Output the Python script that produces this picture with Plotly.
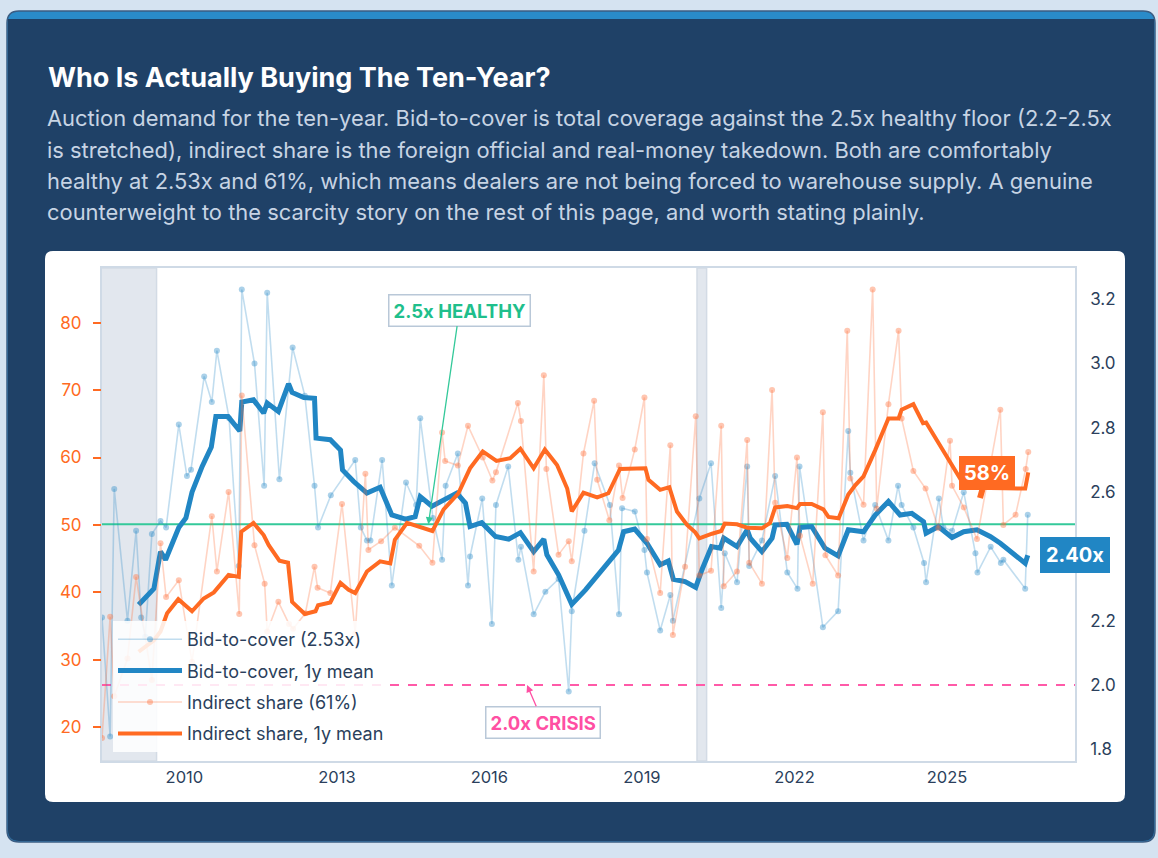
import plotly.graph_objects as go
import pandas as pd

# ---------------- data ----------------
btc_years = [2008.38, 2008.54, 2008.62, 2008.88, 2009.05, 2009.15, 2009.23, 2009.36, 2009.53, 2009.64,
             2009.89, 2010.05, 2010.13, 2010.39, 2010.54, 2010.64, 2010.88, 2011.07, 2011.13, 2011.38,
             2011.57, 2011.63, 2011.87, 2012.13, 2012.37, 2012.56, 2012.63, 2012.88, 2013.36, 2013.47,
             2013.59, 2013.66, 2013.89, 2014.08, 2014.36, 2014.56, 2014.64, 2014.89, 2015.07, 2015.14,
             2015.38, 2015.58, 2015.62, 2015.86, 2016.05, 2016.13, 2016.37, 2016.57, 2016.62, 2016.87,
             2017.10, 2017.36, 2017.56, 2017.62, 2017.87, 2018.07, 2018.37, 2018.55, 2018.61, 2018.86,
             2019.05, 2019.10, 2019.36, 2019.56, 2019.61, 2020.13, 2020.36, 2020.56, 2020.63, 2020.87,
             2021.07, 2021.11, 2021.36, 2021.62, 2021.86, 2022.06, 2022.10, 2022.56, 2022.86, 2023.06,
             2023.10, 2023.36, 2023.59, 2023.85, 2024.04, 2024.11, 2024.34, 2024.55, 2024.59, 2024.84,
             2024.93, 2025.10, 2025.33, 2025.56, 2025.60, 2025.86, 2026.06, 2026.11, 2026.54, 2026.59]
btc_vals = [2.21, 1.84, 2.61, 2.20, 2.48, 2.21, 2.15, 2.47, 2.51, 2.49,
            2.81, 2.65, 2.67, 2.96, 2.88, 3.04, 2.83, 2.37, 3.23, 3.00,
            2.62, 3.22, 2.64, 3.05, 2.90, 2.62, 2.49, 2.59, 2.70, 2.49,
            2.45, 2.45, 2.70, 2.31, 2.63, 2.56, 2.83, 2.52, 2.39, 2.62,
            2.72, 2.31, 2.40, 2.58, 2.19, 2.56, 2.68, 2.39, 2.43, 2.22,
            2.29, 2.33, 1.98, 2.23, 2.48, 2.69, 2.56, 2.22, 2.55, 2.54,
            2.42, 2.35, 2.17, 2.28, 2.20, 2.58, 2.69, 2.24, 2.41, 2.32,
            2.68, 2.37, 2.45, 2.65, 2.35, 2.30, 2.68, 2.18, 2.23, 2.79,
            2.66, 2.45, 2.56, 2.45, 2.62, 2.56, 2.49, 2.38, 2.32, 2.58,
            2.49, 2.48, 2.60, 2.41, 2.35, 2.43, 2.38, 2.39, 2.30, 2.53]

btc_mean_years = [2009.10, 2009.40, 2009.53, 2009.63, 2009.89, 2010.03, 2010.15, 2010.35, 2010.53, 2010.62,
                  2010.86, 2011.09, 2011.13, 2011.36, 2011.56, 2011.63, 2011.85, 2012.05, 2012.12, 2012.35,
                  2012.56, 2012.59, 2012.87, 2013.07, 2013.11, 2013.33, 2013.59, 2013.85, 2014.08, 2014.35,
                  2014.54, 2014.64, 2014.87, 2015.36, 2015.53, 2015.62, 2015.85, 2016.12, 2016.38, 2016.61,
                  2016.87, 2017.07, 2017.13, 2017.36, 2017.62, 2017.89, 2018.54, 2018.64, 2018.86, 2019.10,
                  2019.36, 2019.52, 2019.62, 2019.85, 2020.06, 2020.18, 2020.37, 2020.54, 2020.61, 2020.87,
                  2021.07, 2021.13, 2021.36, 2021.56, 2021.62, 2021.85, 2022.05, 2022.11, 2022.34, 2022.60,
                  2022.86, 2023.06, 2023.36, 2023.59, 2023.85, 2024.08, 2024.31, 2024.54, 2024.59, 2024.83,
                  2025.10, 2025.33, 2025.59, 2025.85, 2026.05, 2026.28, 2026.54, 2026.59]
btc_mean_vals = [2.25, 2.30, 2.415, 2.39, 2.49, 2.52, 2.60, 2.68, 2.74, 2.835,
                 2.835, 2.79, 2.88, 2.887, 2.846, 2.877, 2.851, 2.937, 2.91, 2.894,
                 2.892, 2.768, 2.763, 2.731, 2.669, 2.633, 2.597, 2.615, 2.529, 2.516,
                 2.524, 2.586, 2.556, 2.597, 2.566, 2.493, 2.505, 2.462, 2.454, 2.474,
                 2.415, 2.454, 2.405, 2.343, 2.251, 2.296, 2.42, 2.477, 2.485, 2.441,
                 2.374, 2.386, 2.329, 2.322, 2.304, 2.358, 2.431, 2.426, 2.457, 2.431,
                 2.483, 2.457, 2.415, 2.457, 2.498, 2.50, 2.438, 2.49, 2.493, 2.426,
                 2.402, 2.483, 2.477, 2.529, 2.571, 2.529, 2.534, 2.508, 2.472, 2.493,
                 2.459, 2.477, 2.483, 2.462, 2.441, 2.41, 2.379, 2.404]

ind_years = [2008.38, 2008.54, 2008.62, 2008.88, 2009.05, 2009.36, 2009.53, 2009.64, 2009.89, 2010.15,
             2010.54, 2010.64, 2010.87, 2011.08, 2011.13, 2011.38, 2011.58, 2011.63, 2011.85, 2012.06,
             2012.14, 2012.38, 2012.56, 2012.62, 2012.87, 2013.10, 2013.36, 2013.56, 2013.62, 2013.87,
             2014.14, 2014.62, 2014.88, 2015.07, 2015.13, 2015.38, 2015.58, 2015.87, 2016.06, 2016.13,
             2016.56, 2016.62, 2016.87, 2017.07, 2017.12, 2017.36, 2017.56, 2017.62, 2017.85, 2018.06,
             2018.12, 2018.36, 2018.55, 2018.62, 2018.86, 2019.05, 2019.10, 2019.36, 2019.56, 2019.61,
             2019.85, 2020.06, 2020.13, 2020.36, 2020.56, 2020.61, 2020.87, 2021.07, 2021.11, 2021.36,
             2021.56, 2021.62, 2021.86, 2022.05, 2022.11, 2022.36, 2022.56, 2022.61, 2022.86, 2023.04,
             2023.10, 2023.36, 2023.54, 2023.62, 2023.85, 2024.05, 2024.11, 2024.34, 2024.58, 2024.83,
             2025.06, 2025.10, 2025.33, 2025.59, 2026.05, 2026.11, 2026.35, 2026.55, 2026.60]
ind_vals = [18.4, 36.4, 24.6, 30.2, 42.3, 27.0, 47.3, 39.3, 41.8, 29.7,
            51.3, 43.1, 54.9, 36.8, 69.2, 47.0, 41.3, 34.2, 38.6, 35.3,
            34.6, 36.9, 43.8, 40.7, 39.9, 53.1, 33.9, 57.6, 46.3, 47.6,
            49.6, 46.9, 44.4, 63.7, 59.5, 58.8, 64.7, 60.0, 56.6, 57.8,
            68.1, 65.4, 43.1, 72.2, 58.3, 45.6, 47.6, 44.6, 60.6, 68.4,
            56.7, 50.7, 58.8, 54.0, 61.2, 68.9, 47.9, 39.9, 61.8, 33.7,
            43.8, 66.1, 42.5, 43.2, 64.7, 40.9, 43.1, 62.6, 44.4, 41.3,
            70.0, 53.3, 45.1, 60.0, 48.4, 41.3, 66.7, 45.5, 42.5, 78.8,
            56.9, 53.0, 84.9, 52.4, 67.9, 78.8, 65.8, 58.0, 55.4, 49.5,
            62.5, 55.8, 52.6, 47.9, 67.1, 50.0, 51.5, 58.3, 60.8]

ind_mean_years = [2009.10, 2009.40, 2009.53, 2009.66, 2009.88, 2010.15, 2010.38, 2010.58, 2010.87, 2011.07,
                  2011.12, 2011.36, 2011.56, 2011.66, 2011.87, 2012.04, 2012.12, 2012.37, 2012.58, 2012.63,
                  2012.87, 2013.07, 2013.23, 2013.36, 2013.59, 2013.85, 2014.05, 2014.14, 2014.38, 2014.61,
                  2014.88, 2015.10, 2015.33, 2015.39, 2015.62, 2015.87, 2016.14, 2016.41, 2016.61, 2016.87,
                  2017.09, 2017.33, 2017.53, 2017.62, 2017.85, 2018.12, 2018.34, 2018.57, 2019.07, 2019.13,
                  2019.36, 2019.54, 2019.69, 2019.89, 2020.05, 2020.13, 2020.38, 2020.56, 2020.63, 2020.87,
                  2021.07, 2021.36, 2021.52, 2021.62, 2021.86, 2022.05, 2022.11, 2022.34, 2022.57, 2022.67,
                  2022.87, 2023.06, 2023.20, 2023.36, 2023.59, 2023.85, 2024.05, 2024.11, 2024.34, 2024.53,
                  2024.59, 2025.06, 2025.18, 2025.33, 2025.59, 2026.05, 2026.38, 2026.54, 2026.60]
ind_mean_vals = [31.2, 32.9, 34.2, 36.9, 39.0, 37.2, 39.1, 40.0, 42.6, 42.3,
                 49.0, 50.3, 48.5, 47.0, 44.7, 44.4, 38.6, 36.8, 37.2, 38.1,
                 38.5, 41.4, 40.4, 39.9, 43.1, 44.6, 44.3, 47.8, 50.3, 49.7,
                 49.1, 52.3, 54.3, 54.7, 58.4, 60.9, 59.5, 59.9, 61.3, 58.4,
                 61.2, 58.9, 55.4, 52.0, 54.8, 54.1, 54.7, 58.3, 58.4, 56.7,
                 55.2, 55.6, 52.0, 50.0, 48.9, 48.0, 48.7, 49.1, 50.2, 50.1,
                 49.6, 49.5, 50.3, 52.6, 52.8, 52.5, 53.1, 53.1, 52.3, 51.2,
                 51.0, 54.5, 55.9, 57.2, 61.1, 65.8, 65.8, 67.1, 67.9, 65.1,
                 65.2, 59.4, 57.7, 56.0, 55.5, 55.4, 55.4, 55.4, 57.8]

recessions = [("2007-12-01", "2009-06-15"), ("2020-02-01", "2020-04-10")]
healthy_level = 2.5
crisis_level = 2.0
# right-axis ticks shown (2.4 sits behind the end-value badge in the reference)
btc_ticks = [1.8, 2.0, 2.2, 2.6, 2.8, 3.0, 3.2]
ind_ticks = [20, 30, 40, 50, 60, 70, 80]

title_text = "Who Is Actually Buying The Ten-Year?"
subtitle_lines = [
    "Auction demand for the ten-year. Bid-to-cover is total coverage against the 2.5x healthy floor (2.2-2.5x",
    "is stretched), indirect share is the foreign official and real-money takedown. Both are comfortably",
    "healthy at 2.53x and 61%, which means dealers are not being forced to warehouse supply. A genuine",
    "counterweight to the scarcity story on the rest of this page, and worth stating plainly.",
]


def dy(y):
    yr = int(y)
    s = pd.Timestamp(yr, 1, 1)
    e = pd.Timestamp(yr + 1, 1, 1)
    return s + (e - s) * (y - yr)


def dates(lst):
    return [dy(v) for v in lst]


# ---------------- layout geometry (pixels) ----------------
W, H = 1158, 858
PL, PR, PT, PB = 102, 1075, 268, 761


def px(x):
    return (x - PL) / (PR - PL)


def py(y):
    return (PB - y) / (PB - PT)


def rrect(x0, y0, x1, y1, r, top=True, bottom=True):
    rt = r if top else 0
    rb = r if bottom else 0
    pts = [f"M{px(x0 + rt)},{py(y0)}", f"L{px(x1 - rt)},{py(y0)}"]
    if rt:
        pts.append(f"Q{px(x1)},{py(y0)} {px(x1)},{py(y0 + rt)}")
    pts.append(f"L{px(x1)},{py(y1 - rb)}")
    if rb:
        pts.append(f"Q{px(x1)},{py(y1)} {px(x1 - rb)},{py(y1)}")
    pts.append(f"L{px(x0 + rb)},{py(y1)}")
    if rb:
        pts.append(f"Q{px(x0)},{py(y1)} {px(x0)},{py(y1 - rb)}")
    pts.append(f"L{px(x0)},{py(y0 + rt)}")
    if rt:
        pts.append(f"Q{px(x0)},{py(y0)} {px(x0 + rt)},{py(y0)}")
    pts.append("Z")
    return " ".join(pts)


BLUE = "#2186c4"
ORANGE = "#ff6a22"
GREEN = "#34c99a"
PINK = "#ff4fa3"
NAVY_TXT = "#2b3f5c"
FONT = "Inter"

fig = go.Figure()

fig.add_trace(go.Scatter(
    x=dates(btc_years), y=btc_vals, mode="lines+markers", name="Bid-to-cover (2.53x)",
    line=dict(color="rgba(33,134,196,0.28)", width=1.6),
    marker=dict(color="rgba(33,134,196,0.38)", size=6),
    yaxis="y", legendgroup="a"))
fig.add_trace(go.Scatter(
    x=dates(btc_mean_years), y=btc_mean_vals, mode="lines", name="Bid-to-cover, 1y mean",
    line=dict(color=BLUE, width=5), yaxis="y", legendgroup="b"))
fig.add_trace(go.Scatter(
    x=dates(ind_years), y=ind_vals, mode="lines+markers", name="Indirect share (61%)",
    line=dict(color="rgba(255,112,60,0.30)", width=1.6),
    marker=dict(color="rgba(255,112,60,0.40)", size=6),
    yaxis="y2", legendgroup="c"))
fig.add_trace(go.Scatter(
    x=dates(ind_mean_years), y=ind_mean_vals, mode="lines", name="Indirect share, 1y mean",
    line=dict(color=ORANGE, width=4), yaxis="y2", legendgroup="d"))

shapes = [
    dict(type="path", xref="paper", yref="paper", layer="below",
         path=rrect(7, 11, 1155, 842, 12), fillcolor="#2a8bc9", line=dict(color="#3b5d83", width=1.5)),
    dict(type="path", xref="paper", yref="paper", layer="below",
         path=rrect(8, 19, 1154, 841, 11, top=False), fillcolor="#1f4167", line=dict(width=0)),
    dict(type="path", xref="paper", yref="paper", layer="below",
         path=rrect(45, 251, 1125, 802, 8), fillcolor="#ffffff", line=dict(width=0)),
]
for a, b in recessions:
    shapes.append(dict(type="rect", xref="x", yref="paper", x0=a, x1=b, y0=0, y1=1, layer="below",
                       fillcolor="#e2e7ee", line=dict(color="#d3dbe5", width=1.5)))
shapes.append(dict(type="line", xref="paper", yref="y", x0=0, x1=1, y0=healthy_level, y1=healthy_level,
                   layer="below", line=dict(color=GREEN, width=2)))
shapes.append(dict(type="line", xref="paper", yref="y", x0=0, x1=1, y0=crisis_level, y1=crisis_level,
                   layer="below", line=dict(color="#ff5aa8", width=2, dash="dash")))

annotations = []
annotations.append(dict(xref="paper", yref="paper", x=px(46), y=py(77), xanchor="left", yanchor="middle",
                        text=f"<b>{title_text}</b>", showarrow=False,
                        font=dict(family=FONT, size=27, color="#ffffff", weight=800)))
for i, line in enumerate(subtitle_lines):
    annotations.append(dict(xref="paper", yref="paper", x=px(45), y=py(118 + 31.5 * i), xanchor="left",
                            yanchor="middle", text=line, showarrow=False,
                            font=dict(family=FONT, size=21.9, color="#c7d4e4")))

annotations.append(dict(x=dy(2014.80), y=healthy_level, xref="x", yref="y", text="<b>2.5x HEALTHY</b>",
                        showarrow=True, ax=31, ay=-214, arrowhead=2, arrowsize=1.1, arrowwidth=1.3,
                        arrowcolor=GREEN, bgcolor="#ffffff", bordercolor="#b9c8d8", borderwidth=1.5,
                        borderpad=4, font=dict(family=FONT, size=18.5, color="#1fbf8c")))
annotations.append(dict(x=dy(2016.74), y=crisis_level, xref="x", yref="y", text="<b>2.0x CRISIS</b>",
                        showarrow=True, ax=16, ay=37, arrowhead=2, arrowsize=1.1, arrowwidth=1.3,
                        arrowcolor=PINK, bgcolor="#ffffff", bordercolor="#b9c8d8", borderwidth=1.5,
                        borderpad=4, font=dict(family=FONT, size=18.5, color=PINK)))
annotations.append(dict(x=dy(btc_mean_years[-1]), y=btc_mean_vals[-1], xref="x", yref="y",
                        text=f"<b>{btc_mean_vals[-1]:.2f}x</b>", showarrow=False, xanchor="left",
                        yanchor="middle", xshift=12, bgcolor=BLUE, bordercolor=BLUE, borderwidth=1,
                        borderpad=5, font=dict(family=FONT, size=20, color="#ffffff")))
annotations.append(dict(x=dy(2025.65), y=54.0, xref="x", yref="y2",
                        text=f"<b>{ind_mean_vals[-1]:.0f}%</b>", showarrow=True, ax=7, ay=-25,
                        arrowhead=0, arrowwidth=6, arrowcolor=ORANGE, standoff=0,
                        bgcolor=ORANGE, bordercolor=ORANGE, borderwidth=1, borderpad=4,
                        font=dict(family=FONT, size=20, color="#ffffff")))

fig.update_layout(
    width=W, height=H, autosize=False,
    margin=dict(l=PL, r=W - PR, t=PT, b=H - PB, pad=0),
    paper_bgcolor="#d5e3f1", plot_bgcolor="rgba(0,0,0,0)",
    font=dict(family=FONT, color=NAVY_TXT),
    shapes=shapes, annotations=annotations,
    showlegend=True,
    legend=dict(x=px(113), y=py(621), xanchor="left", yanchor="top",
                bgcolor="rgba(255,255,255,0.86)", borderwidth=0,
                font=dict(family=FONT, size=18, color=NAVY_TXT),
                itemwidth=64, tracegroupgap=5, traceorder="grouped"),
    xaxis=dict(type="date", range=[dy(2008.38), dy(2027.52)], showgrid=False, zeroline=False,
               showline=True, mirror=True, linecolor="#cfdae6", linewidth=1.5,
               tick0="2010-01-01", dtick="M36", tickformat="%Y", ticks="",
               tickfont=dict(family=FONT, size=16.5, color=NAVY_TXT)),
    yaxis=dict(side="right", range=[1.764, 3.297], showgrid=False, zeroline=False,
               showline=True, mirror=True, linecolor="#cfdae6", linewidth=1.5,
               tickvals=btc_ticks, tickformat=".1f", ticks="",
               ticklabelstandoff=10, tickfont=dict(family=FONT, size=17, color=NAVY_TXT)),
    yaxis2=dict(side="left", overlaying="y", range=[15.0, 88.1], showgrid=False, zeroline=False,
                showline=False, tickvals=ind_ticks, ticks="outside", ticklen=8,
                tickwidth=1.5, tickcolor=ORANGE, ticklabelstandoff=8,
                tickfont=dict(family=FONT, size=17, color=ORANGE)),
)

fig.write_html("out.html", config={"displayModeBar": False},
               post_script="document.body.style.margin='0';document.body.style.overflow='hidden';")
